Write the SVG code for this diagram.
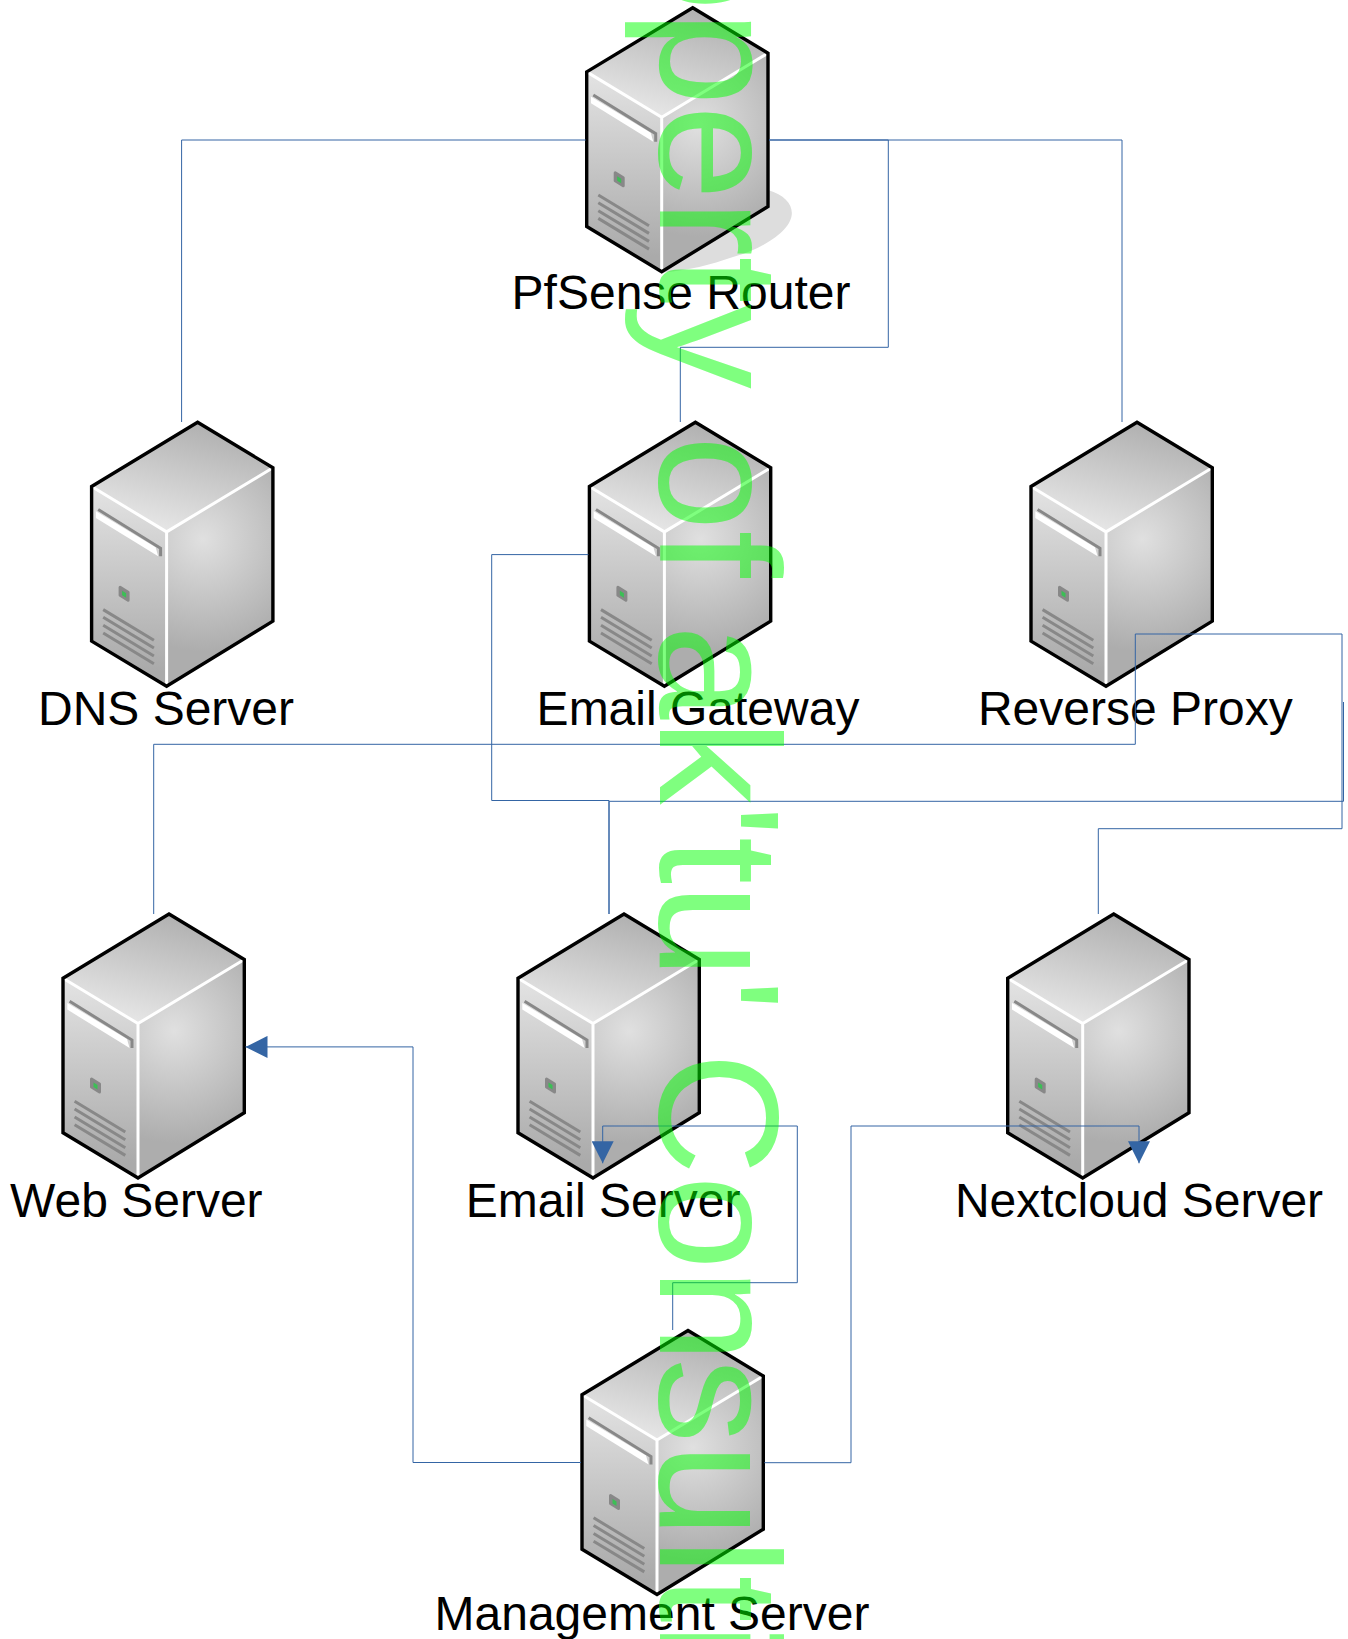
<svg xmlns="http://www.w3.org/2000/svg" width="1348" height="1639" viewBox="0 0 1348 1639">
<style>
.lbl{font-family:"Liberation Sans",Arial,sans-serif;font-size:48px;fill:#000;text-anchor:middle}
.wm{font-family:"Liberation Sans",Arial,sans-serif;font-size:170px;fill:#00ff00;fill-opacity:.5}
.c{fill:none;stroke:#3465a4;stroke-width:1}
.arrow{marker-end:url(#tri)}
</style>
<defs>
<marker id="tri" markerUnits="userSpaceOnUse" markerWidth="22" markerHeight="22" refX="22" refY="11" orient="auto"><path d="M0,0L22,11L0,22Z" fill="#3465a4"/></marker>
<linearGradient id="gTop" gradientUnits="userSpaceOnUse" x1="107" y1="0" x2="76" y2="110"><stop offset="0" stop-color="#b0b0b0"/><stop offset="1" stop-color="#e6e6e6"/></linearGradient>
<linearGradient id="gLeft" gradientUnits="userSpaceOnUse" x1="0" y1="70" x2="0" y2="250"><stop offset="0" stop-color="#e2e2e2"/><stop offset="1" stop-color="#aaa"/></linearGradient>
<radialGradient id="gRight" gradientUnits="userSpaceOnUse" cx="112" cy="118" r="112"><stop offset="0" stop-color="#e0e0e0"/><stop offset="1" stop-color="#adadad"/></radialGradient>
<g id="server">
<path d="M107,1L182.3,46.5L76,110.6L1,65.2Z" fill="url(#gTop)"/>
<path d="M1,65.2L76,110.6V265L1,219.8Z" fill="url(#gLeft)"/>
<path d="M182.3,46.5V199.8L76,265V110.6Z" fill="url(#gRight)"/>
<path d="M1,65.2L76,110.6L182.3,46.5M76,110.6V265" fill="none" stroke="#fff" stroke-width="3"/>
<path d="M5.3,90V96.6L67.6,135L65,126Z" fill="#fff"/>
<path d="M7.6,88.3L70,127V135" fill="none" stroke="#888" stroke-width="3"/>
<path d="M29.5,166L37.5,171V179L29.5,174Z" fill="#888" stroke="#888" stroke-width="3" stroke-linejoin="round"/>
<path d="M31.5,169.5L35.5,172V176.5L31.5,174Z" fill="#3bbf55"/>
<path d="M12.6,188.3L63.3,219M12.6,196L63.3,226.7M12.6,204L63.3,234.7M12.6,211.7L63.3,242.4" fill="none" stroke="#888" stroke-width="3"/>
<path d="M107,1L182.3,46.5V199.8L76,265L1,219.8V65.2Z" fill="none" stroke="#000" stroke-width="3.4"/>
</g>
</defs>
<rect width="1348" height="1639" fill="#fff"/>
<g id="n-shadow"><path d="M768,190C785,195 793,205 791.7,215C790,232 760,250 733,257C710,265 690,270 660,273L700,200Z" fill="#ddd"/></g>
<g id="node-pfsense"><use href="#server" x="585.7" y="6.7"/><text class="lbl" x="681" y="309.3">PfSense Router</text></g>
<g id="node-dns"><use href="#server" x="90.6" y="421.3"/><text class="lbl" x="166" y="725">DNS Server</text></g>
<g id="node-gateway"><use href="#server" x="588.4" y="421.3"/><text class="lbl" x="698" y="725">Email Gateway</text></g>
<g id="node-proxy"><use href="#server" x="1030" y="421.3"/><text class="lbl" x="1135.3" y="725">Reverse Proxy</text></g>
<g id="node-web"><use href="#server" x="62" y="913"/><text class="lbl" x="136.3" y="1217">Web Server</text></g>
<g id="node-email"><use href="#server" x="517" y="913"/><text class="lbl" x="603" y="1217">Email Server</text></g>
<g id="node-nextcloud"><use href="#server" x="1006.7" y="913"/><text class="lbl" x="1139" y="1217">Nextcloud Server</text></g>
<g id="node-management"><use href="#server" x="581" y="1329.5"/><text class="lbl" x="652" y="1629.5">Management Server</text></g>
<g id="connectors">
<path class="c" d="M585.7,140H181.6V422"/>
<path class="c" d="M769,140H1122V422"/>
<path class="c" d="M769,140H888.3V347.3H680.3V422"/>
<path class="c" d="M588.4,554.6H491.7V800.5H609V914"/>
<path class="c" d="M1343.5,702V801.3H609V914"/>
<path class="c" d="M1135.3,634V744.3H153.7V914"/>
<path class="c" d="M1135.3,634H1342V828.7H1098.3V914"/>
<path class="c arrow" d="M581,1462.5H413V1046.9H245.5"/>
<path class="c arrow" d="M672.7,1330V1282.7H797.3V1126H602.7V1163.3"/>
<path class="c arrow" d="M764.3,1462.7H851V1126H1139V1163.3"/>
</g>
<text class="wm" transform="translate(660,-235) rotate(90)">property of ak'tu' <tspan dx="-6">Co</tspan><tspan dx="-1.5">n</tspan><tspan dx="-4.5">sulting</tspan></text>
</svg>
